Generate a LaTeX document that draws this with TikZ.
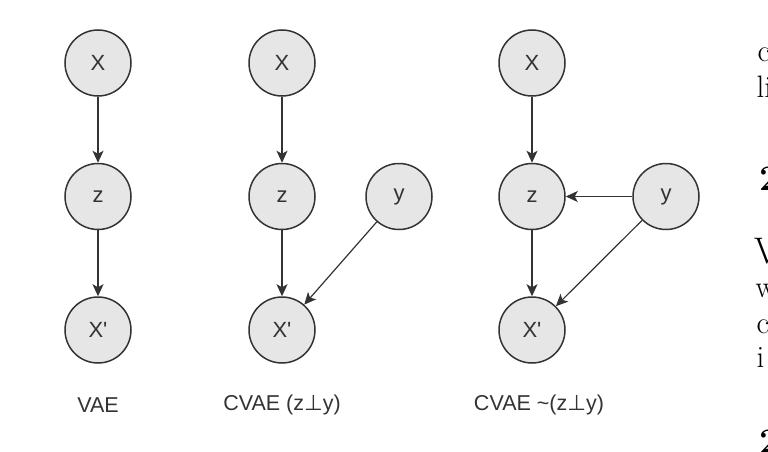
\documentclass[tikz,border=0pt]{standalone}
\usepackage{fontspec}
\usepackage{tikz}
\usetikzlibrary{positioning, arrows.meta}
\newfontfamily\boxfont{Liberation Sans}
\newfontfamily\tackfont{DejaVu Sans}
\usepackage{xcolor}
\definecolor{nodefill}{HTML}{E6E6E6}
\definecolor{nodeline}{HTML}{333333}
\newcommand{\indep}{{\tackfont ⊥}}

\tikzset{
  var/.style={circle, draw=nodeline, fill=nodefill, line width=1.5pt,
    minimum size=66pt, inner sep=0pt, text=nodeline,
    font=\boxfont\fontsize{22}{26}\selectfont},
  caption/.style={text=nodeline, font=\boxfont\fontsize{21.5}{26}\selectfont},
  pagetext/.style={anchor=base west, inner sep=0pt, font=\fontsize{31}{36}\selectfont},
  pagehead/.style={anchor=base west, inner sep=0pt, font=\bfseries\fontsize{36}{43}\selectfont}
}

\begin{document}
\begin{tikzpicture}[->,>={Stealth[length=12pt,width=11pt,inset=3pt]},auto,node distance=133.5pt,
    line width=1.2pt, draw=nodeline, x=1pt, y=-1pt]
      \useasboundingbox (0,0) rectangle (768,452);
      \clip (0,0) rectangle (768,452);

      % VAE
      \node[var] (x1) at (98,63) {X};
      \node[var] (z1) [below of=x1] {z};
      \node[var] (xp1) [below of=z1] {X'};
      \node[caption] (vae) [below of=xp1, node distance=75pt] {VAE};

      % CVAE, z and y independent
      \node[var] (x2) at (282,63) {X};
      \node[var] (z2) [below of=x2] {z};
      \node[var] (xp2) [below of=z2] {X'};
      \node[var] (y2) [right of=z2, node distance=117pt] {y};
      \node[caption] (cvae) [below of=xp2, node distance=75pt] {CVAE (z\indep y)};

      % CVAE, z and y dependent
      \node[var] (x3) at (532,63) {X};
      \node[var] (z3) [below of=x3] {z};
      \node[var] (xp3) [below of=z3] {X'};
      \node[var] (y3) [right of=z3, node distance=134pt] {y};
      \node[caption] (cvaedep) [below of=xp3, node distance=75pt, xshift=7pt] {CVAE \textasciitilde(z\indep y)};

      \path (x1) edge (z1)
            (z1) edge (xp1)
            (x2) edge (z2)
            (z2) edge (xp2)
            (y2) edge (xp2)
            (x3) edge (z3)
            (z3) edge (xp3)
            (y3) edge (z3)
            (y3) edge (xp3);

      % page text cut off at the right
      \node[pagetext] (p1) at (757,62) {c};
      \node[pagetext] (p2) at (756,97) {li};
      \node[pagehead] (p3) at (759,190) {2};
      \node[pagetext, font=\fontsize{37}{44}\selectfont] (p4) at (754,263) {V};
      \node[pagetext] (p5) at (755,297) {w};
      \node[pagetext] (p6) at (756,333) {c};
      \node[pagetext] (p7) at (756,367) {i};
      \node[pagehead] (p8) at (759,453) {2};
\end{tikzpicture}
\end{document}
